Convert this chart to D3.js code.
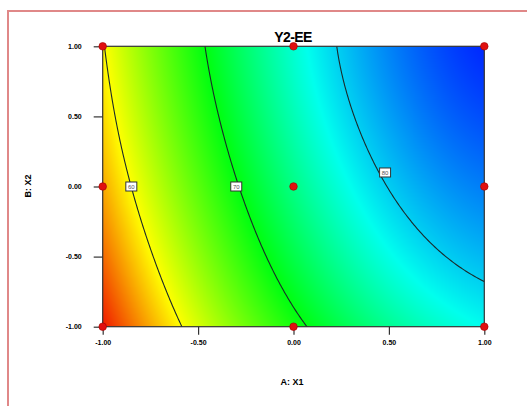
<!DOCTYPE html>
<html><head><meta charset="utf-8">
<script src="https://cdn.jsdelivr.net/npm/d3@7"></script>
<style>html,body{margin:0;padding:0;background:#fff;}svg{display:block;}</style>
</head><body>
<script>
// ---- data ----
const title = "Y2-EE";
const xLabel = "A: X1";
const yLabel = "B: X2";
const levels = [-1, -0.5, 0, 0.5, 1];           // coded factor levels (grid nodes)
const tickValues = [-1, -0.5, 0, 0.5, 1];
const tickLabels = ["-1.00", "-0.50", "0.00", "0.50", "1.00"];
// response Y2 estimated at grid nodes; rows = X2 from -1 to 1, cols = X1 from -1 to 1
const rowXm1 = [51.8, 61.5, 69.1, 74.6, 78.0];
const rowXm05 = [54.6, 64.3, 72.0, 77.7, 81.0];
const rowX0 = [56.9, 66.5, 74.2, 80.1, 83.5];
const rowXp05 = [58.6, 68.2, 75.9, 82.0, 85.6];
const rowXp1 = [59.8, 69.4, 77.0, 83.2, 87.2];
const contourLevels = [60, 70, 80];
const contourLabelPos = [[-0.85, 0.0], [-0.3, 0.0], [0.48, 0.1]]; // where labels sit
const designX = [-1, 0, 1, -1, 0, 1, -1, 0, 1];
const designY = [1, 1, 1, 0, 0, 0, -1, -1, -1];
const colorStops = [51.8, 60, 70, 78, 87.2];
const colorRange = ["#f01800", "#ffff00", "#00ff10", "#00ffee", "#0028ff"];

// ---- layout ----
const W = 527, H = 406;
const x0 = 102.7, x1 = 484.3, y0 = 46.3, y1 = 326.7;
const rows = [rowXm1, rowXm05, rowX0, rowXp05, rowXp1];

const x = d3.scaleLinear().domain([-1, 1]).range([x0, x1]);
const y = d3.scaleLinear().domain([-1, 1]).range([y1, y0]);
const color = d3.scaleLinear().domain(colorStops).range(colorRange).clamp(true);

// Lagrange interpolation through the 5 nodes (rendering only)
function lag(t, vals) {
  let s = 0;
  for (let i = 0; i < levels.length; i++) {
    let w = 1;
    for (let j = 0; j < levels.length; j++) if (j !== i) w *= (t - levels[j]) / (levels[i] - levels[j]);
    s += w * vals[i];
  }
  return s;
}
function field(a, b) {
  const colVals = rows.map(r => lag(a, r));
  return lag(b, colVals);
}

const svg = d3.select("body").append("svg").attr("width", W).attr("height", H);

// frame
svg.append("path").attr("d", `M8,${H} L8,11 L${W},11`).attr("fill", "none")
  .attr("stroke", "#e08888").attr("stroke-width", 2);

// colour field via canvas -> image
const pw = Math.round(x1 - x0), ph = Math.round(y1 - y0);
const cv = document.createElement("canvas");
cv.width = pw; cv.height = ph;
const ctx = cv.getContext("2d");
const img = ctx.createImageData(pw, ph);
for (let j = 0; j < ph; j++) {
  for (let i = 0; i < pw; i++) {
    const a = x.invert(x0 + i + 0.5), b = y.invert(y0 + j + 0.5);
    const c = d3.rgb(color(field(a, b)));
    const k = (j * pw + i) * 4;
    img.data[k] = c.r; img.data[k + 1] = c.g; img.data[k + 2] = c.b; img.data[k + 3] = 255;
  }
}
ctx.putImageData(img, 0, 0);
svg.append("image").attr("x", x0).attr("y", y0).attr("width", x1 - x0).attr("height", y1 - y0)
  .attr("preserveAspectRatio", "none").attr("href", cv.toDataURL());

// contours
const n = 121;
const step = 2 / (n - 1);
const grid = new Array(n * n);
for (let j = 0; j < n; j++) for (let i = 0; i < n; i++) grid[j * n + i] = field(-1 + i * step, 1 - j * step);
const contours = d3.contours().size([n, n]).thresholds(contourLevels)(grid);
const proj = d3.geoTransform({
  point: function (px, py) {
    this.stream.point(x(-1 + (px - 0.5) * step), y(1 - (py - 0.5) * step));
  }
});
svg.append("clipPath").attr("id", "clip").append("rect")
  .attr("x", x0).attr("y", y0).attr("width", x1 - x0).attr("height", y1 - y0);
svg.append("g").attr("clip-path", "url(#clip)").selectAll("path").data(contours).join("path")
  .attr("d", d3.geoPath(proj)).attr("fill", "none").attr("stroke", "#1a2a2a").attr("stroke-width", 1.1);

// plot border
svg.append("rect").attr("x", x0).attr("y", y0).attr("width", x1 - x0).attr("height", y1 - y0)
  .attr("fill", "none").attr("stroke", "#333").attr("stroke-width", 1.2);

// axes
const xAxis = d3.axisBottom(x).tickValues(tickValues).tickSize(8).tickFormat((d, i) => tickLabels[i]);
const yAxis = d3.axisLeft(y).tickValues(tickValues).tickSize(9).tickFormat((d, i) => tickLabels[i]);
const gx = svg.append("g").attr("transform", `translate(0,${y1})`).call(xAxis);
const gy = svg.append("g").attr("transform", `translate(${x0},0)`).call(yAxis);
[gx, gy].forEach(g => {
  g.select(".domain").remove();
  g.selectAll(".tick line").attr("stroke", "#333").attr("stroke-width", 1.2);
  g.selectAll(".tick text").attr("fill", "#000").attr("font-family", "Liberation Sans, Arial, sans-serif")
    .attr("font-weight", "bold").attr("font-size", 7);
});
gx.selectAll(".tick text").attr("dy", null).attr("y", 18);
gy.selectAll(".tick text").attr("x", -21);

// contour labels
const lab = svg.append("g");
contourLevels.forEach((lv, i) => {
  const cx = x(contourLabelPos[i][0]), cy = y(contourLabelPos[i][1]);
  lab.append("rect").attr("x", cx - 5.5).attr("y", cy - 4.5).attr("width", 11).attr("height", 9)
    .attr("fill", "#fff").attr("stroke", "#333").attr("stroke-width", 1);
  lab.append("text").attr("x", cx).attr("y", cy + 2.3).attr("text-anchor", "middle")
    .attr("font-family", "Liberation Sans, Arial, sans-serif").attr("font-size", 6).attr("fill", "#555").text(lv);
});

// design points
svg.append("g").selectAll("circle").data(designX.map((d, i) => [d, designY[i]])).join("circle")
  .attr("cx", d => x(d[0])).attr("cy", d => y(d[1])).attr("r", 3.8)
  .attr("fill", "#e01010").attr("stroke", "#a00000").attr("stroke-width", 0.6);

// titles
svg.append("text").attr("x", 293).attr("y", 42).attr("text-anchor", "middle")
  .attr("font-family", "Liberation Sans, Arial, sans-serif").attr("font-weight", "bold")
  .attr("font-size", 14).attr("letter-spacing", -0.6).text(title);
svg.append("text").attr("x", 292).attr("y", 385).attr("text-anchor", "middle")
  .attr("font-family", "Liberation Sans, Arial, sans-serif").attr("font-weight", "bold")
  .attr("font-size", 9).text(xLabel);
svg.append("text").attr("transform", "translate(31,186) rotate(-90)").attr("text-anchor", "middle")
  .attr("font-family", "Liberation Sans, Arial, sans-serif").attr("font-weight", "bold")
  .attr("font-size", 9).text(yLabel);
</script>
</body></html>
